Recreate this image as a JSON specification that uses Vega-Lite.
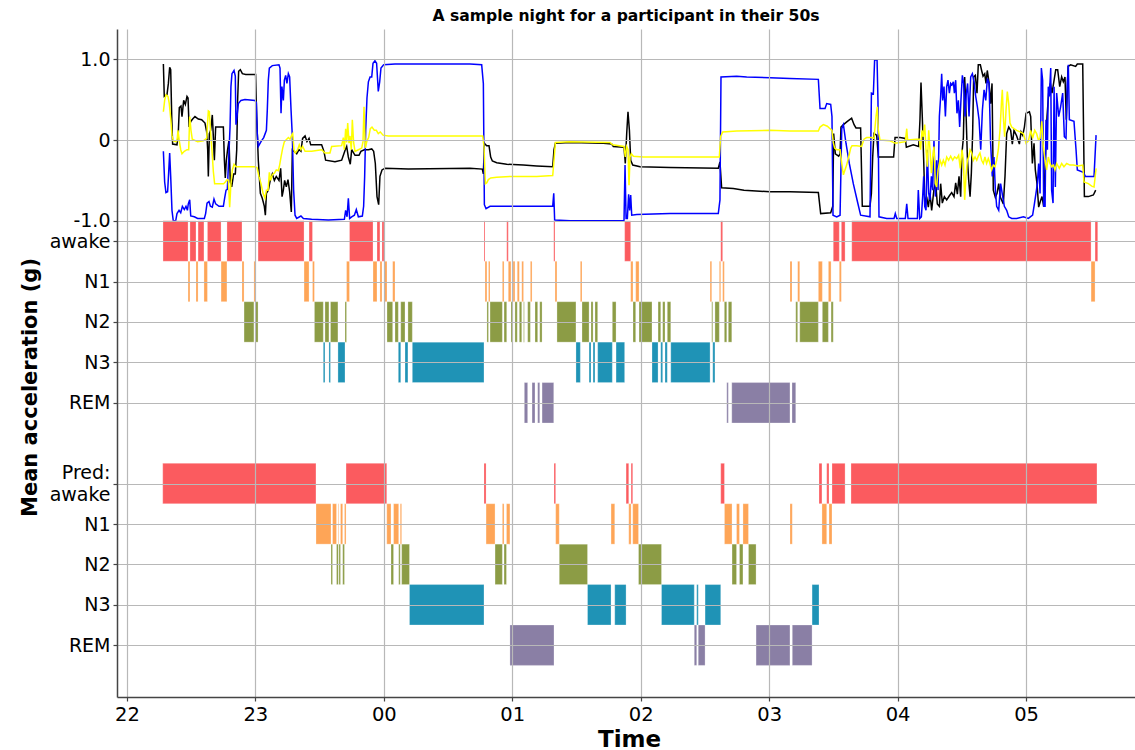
{
  "$schema": "https://vega.github.io/schema/vega-lite/v6.json",
  "width": 1018,
  "height": 668,
  "autosize": "none",
  "padding": {"left": 117, "top": 29, "right": 0, "bottom": 53},
  "background": "#ffffff",
  "title": {
    "text": "A sample night for a participant in their 50s",
    "font": "DejaVu Sans",
    "fontSize": 15.6,
    "fontWeight": "bold",
    "color": "#000000",
    "anchor": "middle",
    "baseline": "alphabetic",
    "offset": 6,
    "dy": 14
  },
  "config": {
    "view": {"stroke": null},
    "font": "DejaVu Sans"
  },
  "datasets": {
    "scored": [
      {"stage": "awake", "t": 22.281, "t_end": 22.476},
      {"stage": "N1", "t": 22.476, "t_end": 22.491},
      {"stage": "awake", "t": 22.491, "t_end": 22.538},
      {"stage": "N1", "t": 22.538, "t_end": 22.554},
      {"stage": "awake", "t": 22.554, "t_end": 22.600},
      {"stage": "N1", "t": 22.600, "t_end": 22.627},
      {"stage": "awake", "t": 22.627, "t_end": 22.733},
      {"stage": "N1", "t": 22.733, "t_end": 22.779},
      {"stage": "awake", "t": 22.779, "t_end": 22.896},
      {"stage": "N1", "t": 22.896, "t_end": 22.912},
      {"stage": "N2", "t": 22.912, "t_end": 22.989},
      {"stage": "N1", "t": 22.989, "t_end": 23.001},
      {"stage": "N2", "t": 23.001, "t_end": 23.021},
      {"stage": "awake", "t": 23.021, "t_end": 23.379},
      {"stage": "N1", "t": 23.379, "t_end": 23.418},
      {"stage": "awake", "t": 23.418, "t_end": 23.445},
      {"stage": "N1", "t": 23.445, "t_end": 23.460},
      {"stage": "N2", "t": 23.460, "t_end": 23.529},
      {"stage": "N3", "t": 23.529, "t_end": 23.542},
      {"stage": "N2", "t": 23.542, "t_end": 23.573},
      {"stage": "N3", "t": 23.573, "t_end": 23.585},
      {"stage": "N2", "t": 23.585, "t_end": 23.643},
      {"stage": "N3", "t": 23.643, "t_end": 23.698},
      {"stage": "N2", "t": 23.698, "t_end": 23.710},
      {"stage": "N1", "t": 23.710, "t_end": 23.733},
      {"stage": "awake", "t": 23.733, "t_end": 23.916},
      {"stage": "N1", "t": 23.916, "t_end": 23.947},
      {"stage": "awake", "t": 23.947, "t_end": 23.970},
      {"stage": "N1", "t": 23.970, "t_end": 23.986},
      {"stage": "awake", "t": 23.986, "t_end": 24.002},
      {"stage": "N1", "t": 24.002, "t_end": 24.025},
      {"stage": "N2", "t": 24.025, "t_end": 24.069},
      {"stage": "N1", "t": 24.069, "t_end": 24.087},
      {"stage": "N2", "t": 24.087, "t_end": 24.113},
      {"stage": "N3", "t": 24.113, "t_end": 24.132},
      {"stage": "N2", "t": 24.132, "t_end": 24.165},
      {"stage": "N3", "t": 24.165, "t_end": 24.188},
      {"stage": "N2", "t": 24.188, "t_end": 24.222},
      {"stage": "N3", "t": 24.222, "t_end": 24.780},
      {"stage": "awake", "t": 24.780, "t_end": 24.788},
      {"stage": "N1", "t": 24.788, "t_end": 24.803},
      {"stage": "N2", "t": 24.803, "t_end": 24.815},
      {"stage": "N1", "t": 24.815, "t_end": 24.827},
      {"stage": "N2", "t": 24.827, "t_end": 24.923},
      {"stage": "N1", "t": 24.923, "t_end": 24.936},
      {"stage": "N2", "t": 24.936, "t_end": 24.957},
      {"stage": "awake", "t": 24.957, "t_end": 24.969},
      {"stage": "N1", "t": 24.969, "t_end": 24.990},
      {"stage": "N2", "t": 24.990, "t_end": 25.006},
      {"stage": "N1", "t": 25.006, "t_end": 25.021},
      {"stage": "N2", "t": 25.021, "t_end": 25.039},
      {"stage": "N1", "t": 25.039, "t_end": 25.055},
      {"stage": "N2", "t": 25.055, "t_end": 25.074},
      {"stage": "N1", "t": 25.074, "t_end": 25.088},
      {"stage": "N2", "t": 25.088, "t_end": 25.094},
      {"stage": "REM", "t": 25.094, "t_end": 25.120},
      {"stage": "N2", "t": 25.120, "t_end": 25.141},
      {"stage": "N1", "t": 25.141, "t_end": 25.154},
      {"stage": "REM", "t": 25.154, "t_end": 25.177},
      {"stage": "N2", "t": 25.177, "t_end": 25.198},
      {"stage": "REM", "t": 25.198, "t_end": 25.214},
      {"stage": "N2", "t": 25.214, "t_end": 25.232},
      {"stage": "REM", "t": 25.232, "t_end": 25.323},
      {"stage": "awake", "t": 25.323, "t_end": 25.333},
      {"stage": "N1", "t": 25.333, "t_end": 25.348},
      {"stage": "N2", "t": 25.348, "t_end": 25.496},
      {"stage": "N3", "t": 25.496, "t_end": 25.530},
      {"stage": "N1", "t": 25.530, "t_end": 25.543},
      {"stage": "N2", "t": 25.543, "t_end": 25.598},
      {"stage": "N3", "t": 25.598, "t_end": 25.613},
      {"stage": "N2", "t": 25.613, "t_end": 25.629},
      {"stage": "N3", "t": 25.629, "t_end": 25.644},
      {"stage": "N2", "t": 25.644, "t_end": 25.665},
      {"stage": "N3", "t": 25.665, "t_end": 25.779},
      {"stage": "N2", "t": 25.779, "t_end": 25.808},
      {"stage": "N3", "t": 25.808, "t_end": 25.875},
      {"stage": "awake", "t": 25.875, "t_end": 25.922},
      {"stage": "N1", "t": 25.922, "t_end": 25.940},
      {"stage": "N2", "t": 25.940, "t_end": 25.961},
      {"stage": "N1", "t": 25.961, "t_end": 25.987},
      {"stage": "N2", "t": 25.987, "t_end": 26.088},
      {"stage": "N3", "t": 26.088, "t_end": 26.135},
      {"stage": "N2", "t": 26.135, "t_end": 26.156},
      {"stage": "N3", "t": 26.156, "t_end": 26.171},
      {"stage": "N2", "t": 26.171, "t_end": 26.189},
      {"stage": "N3", "t": 26.189, "t_end": 26.207},
      {"stage": "N2", "t": 26.207, "t_end": 26.234},
      {"stage": "N3", "t": 26.234, "t_end": 26.540},
      {"stage": "N1", "t": 26.540, "t_end": 26.553},
      {"stage": "N2", "t": 26.553, "t_end": 26.561},
      {"stage": "N3", "t": 26.561, "t_end": 26.578},
      {"stage": "N2", "t": 26.578, "t_end": 26.612},
      {"stage": "N1", "t": 26.612, "t_end": 26.623},
      {"stage": "awake", "t": 26.623, "t_end": 26.638},
      {"stage": "N1", "t": 26.638, "t_end": 26.651},
      {"stage": "N2", "t": 26.651, "t_end": 26.670},
      {"stage": "REM", "t": 26.670, "t_end": 26.682},
      {"stage": "N2", "t": 26.682, "t_end": 26.709},
      {"stage": "REM", "t": 26.709, "t_end": 27.162},
      {"stage": "N1", "t": 27.162, "t_end": 27.178},
      {"stage": "REM", "t": 27.178, "t_end": 27.207},
      {"stage": "N2", "t": 27.207, "t_end": 27.222},
      {"stage": "N1", "t": 27.222, "t_end": 27.238},
      {"stage": "N2", "t": 27.238, "t_end": 27.383},
      {"stage": "N1", "t": 27.383, "t_end": 27.414},
      {"stage": "N2", "t": 27.414, "t_end": 27.461},
      {"stage": "N1", "t": 27.461, "t_end": 27.482},
      {"stage": "N2", "t": 27.482, "t_end": 27.499},
      {"stage": "awake", "t": 27.499, "t_end": 27.546},
      {"stage": "N1", "t": 27.546, "t_end": 27.562},
      {"stage": "awake", "t": 27.562, "t_end": 27.591},
      {"stage": "awake", "t": 27.643, "t_end": 29.506},
      {"stage": "N1", "t": 29.506, "t_end": 29.537},
      {"stage": "awake", "t": 29.537, "t_end": 29.558}
    ],
    "predicted": [
      {"stage": "awake", "t": 22.279, "t_end": 23.472},
      {"stage": "N1", "t": 23.472, "t_end": 23.589},
      {"stage": "N2", "t": 23.589, "t_end": 23.601},
      {"stage": "N1", "t": 23.601, "t_end": 23.632},
      {"stage": "N2", "t": 23.632, "t_end": 23.646},
      {"stage": "N1", "t": 23.646, "t_end": 23.651},
      {"stage": "N2", "t": 23.651, "t_end": 23.663},
      {"stage": "N1", "t": 23.663, "t_end": 23.680},
      {"stage": "N2", "t": 23.680, "t_end": 23.694},
      {"stage": "N1", "t": 23.694, "t_end": 23.706},
      {"stage": "awake", "t": 23.706, "t_end": 24.023},
      {"stage": "N1", "t": 24.023, "t_end": 24.056},
      {"stage": "N2", "t": 24.056, "t_end": 24.076},
      {"stage": "N1", "t": 24.076, "t_end": 24.116},
      {"stage": "N2", "t": 24.116, "t_end": 24.128},
      {"stage": "N1", "t": 24.128, "t_end": 24.139},
      {"stage": "N2", "t": 24.139, "t_end": 24.200},
      {"stage": "N3", "t": 24.200, "t_end": 24.780},
      {"stage": "awake", "t": 24.780, "t_end": 24.796},
      {"stage": "N1", "t": 24.796, "t_end": 24.866},
      {"stage": "N2", "t": 24.866, "t_end": 24.923},
      {"stage": "N1", "t": 24.923, "t_end": 24.936},
      {"stage": "N2", "t": 24.936, "t_end": 24.955},
      {"stage": "N1", "t": 24.955, "t_end": 24.982},
      {"stage": "REM", "t": 24.982, "t_end": 25.325},
      {"stage": "awake", "t": 25.325, "t_end": 25.338},
      {"stage": "N1", "t": 25.338, "t_end": 25.366},
      {"stage": "N2", "t": 25.366, "t_end": 25.586},
      {"stage": "N3", "t": 25.586, "t_end": 25.769},
      {"stage": "N1", "t": 25.769, "t_end": 25.798},
      {"stage": "N3", "t": 25.798, "t_end": 25.886},
      {"stage": "awake", "t": 25.886, "t_end": 25.907},
      {"stage": "N1", "t": 25.907, "t_end": 25.925},
      {"stage": "awake", "t": 25.925, "t_end": 25.938},
      {"stage": "N1", "t": 25.938, "t_end": 25.983},
      {"stage": "N2", "t": 25.983, "t_end": 26.162},
      {"stage": "N3", "t": 26.162, "t_end": 26.417},
      {"stage": "REM", "t": 26.417, "t_end": 26.436},
      {"stage": "N3", "t": 26.436, "t_end": 26.448},
      {"stage": "REM", "t": 26.448, "t_end": 26.501},
      {"stage": "N3", "t": 26.501, "t_end": 26.623},
      {"stage": "awake", "t": 26.623, "t_end": 26.652},
      {"stage": "N1", "t": 26.652, "t_end": 26.711},
      {"stage": "N2", "t": 26.711, "t_end": 26.746},
      {"stage": "N1", "t": 26.746, "t_end": 26.769},
      {"stage": "N2", "t": 26.769, "t_end": 26.796},
      {"stage": "N1", "t": 26.796, "t_end": 26.839},
      {"stage": "N2", "t": 26.839, "t_end": 26.898},
      {"stage": "REM", "t": 26.898, "t_end": 27.162},
      {"stage": "N1", "t": 27.162, "t_end": 27.180},
      {"stage": "REM", "t": 27.180, "t_end": 27.334},
      {"stage": "N3", "t": 27.334, "t_end": 27.388},
      {"stage": "awake", "t": 27.388, "t_end": 27.411},
      {"stage": "N1", "t": 27.411, "t_end": 27.448},
      {"stage": "awake", "t": 27.448, "t_end": 27.466},
      {"stage": "N1", "t": 27.466, "t_end": 27.489},
      {"stage": "awake", "t": 27.489, "t_end": 27.591},
      {"stage": "awake", "t": 27.637, "t_end": 29.552}
    ],
    "acc_black": [
      {"t": 22.284, "g": 0.94}, {"t": 22.291, "g": 0.54}, {"t": 22.312, "g": 0.56}, {"t": 22.323, "g": 0.70},
      {"t": 22.333, "g": 0.90}, {"t": 22.341, "g": 0.87}, {"t": 22.349, "g": 0.29}, {"t": 22.356, "g": -0.05},
      {"t": 22.390, "g": -0.06}, {"t": 22.400, "g": 0.08}, {"t": 22.408, "g": 0.40}, {"t": 22.421, "g": 0.42},
      {"t": 22.429, "g": 0.29}, {"t": 22.442, "g": 0.49}, {"t": 22.455, "g": 0.44}, {"t": 22.468, "g": 0.54},
      {"t": 22.476, "g": 0.52}, {"t": 22.484, "g": 0.16}, {"t": 22.497, "g": 0.23}, {"t": 22.512, "g": 0.26},
      {"t": 22.530, "g": 0.29}, {"t": 22.556, "g": 0.26}, {"t": 22.582, "g": 0.25}, {"t": 22.608, "g": 0.21},
      {"t": 22.621, "g": 0.10}, {"t": 22.629, "g": -0.12}, {"t": 22.634, "g": -0.45}, {"t": 22.642, "g": 0.08},
      {"t": 22.652, "g": 0.12}, {"t": 22.665, "g": 0.31}, {"t": 22.673, "g": 0.04}, {"t": 22.681, "g": -0.25},
      {"t": 22.691, "g": 0.16}, {"t": 22.751, "g": 0.16}, {"t": 22.759, "g": -0.25}, {"t": 22.766, "g": -0.47},
      {"t": 22.774, "g": -0.25}, {"t": 22.784, "g": -0.12}, {"t": 22.795, "g": 0.00}, {"t": 22.805, "g": -0.52},
      {"t": 22.816, "g": -0.58}, {"t": 22.831, "g": -0.42}, {"t": 22.844, "g": -0.42}, {"t": 22.855, "g": -0.12},
      {"t": 22.862, "g": 0.49}, {"t": 22.870, "g": 0.85}, {"t": 22.883, "g": 0.87}, {"t": 22.899, "g": 0.82},
      {"t": 22.925, "g": 0.81}, {"t": 23.002, "g": 0.81}, {"t": 23.010, "g": 0.29}, {"t": 23.023, "g": -0.25},
      {"t": 23.039, "g": -0.66}, {"t": 23.054, "g": -0.72}, {"t": 23.070, "g": -0.82}, {"t": 23.078, "g": -0.93},
      {"t": 23.086, "g": -0.66}, {"t": 23.101, "g": -0.62}, {"t": 23.117, "g": -0.49}, {"t": 23.132, "g": -0.42},
      {"t": 23.148, "g": -0.50}, {"t": 23.163, "g": -0.45}, {"t": 23.184, "g": -0.50}, {"t": 23.197, "g": -0.35},
      {"t": 23.208, "g": -0.70}, {"t": 23.218, "g": -0.62}, {"t": 23.228, "g": -0.50}, {"t": 23.241, "g": -0.58},
      {"t": 23.254, "g": -0.49}, {"t": 23.267, "g": -0.64}, {"t": 23.280, "g": -0.89}, {"t": 23.288, "g": -0.12},
      {"t": 23.303, "g": -0.14}, {"t": 23.322, "g": -0.17}, {"t": 23.340, "g": -0.12}, {"t": 23.355, "g": -0.14},
      {"t": 23.368, "g": 0.02}, {"t": 23.387, "g": 0.05}, {"t": 23.402, "g": -0.02}, {"t": 23.418, "g": 0.02},
      {"t": 23.431, "g": -0.06}, {"t": 23.516, "g": -0.06}, {"t": 23.534, "g": -0.14}, {"t": 23.547, "g": -0.25},
      {"t": 23.620, "g": -0.27}, {"t": 23.672, "g": -0.25}, {"t": 23.698, "g": -0.13}, {"t": 23.711, "g": -0.08},
      {"t": 23.724, "g": -0.21}, {"t": 23.739, "g": -0.30}, {"t": 23.750, "g": -0.12}, {"t": 23.776, "g": -0.19},
      {"t": 23.807, "g": -0.19}, {"t": 23.822, "g": -0.14}, {"t": 23.848, "g": -0.12}, {"t": 23.880, "g": -0.12},
      {"t": 23.906, "g": -0.11}, {"t": 23.921, "g": -0.14}, {"t": 23.934, "g": -0.29}, {"t": 23.947, "g": -0.70},
      {"t": 23.960, "g": -0.80}, {"t": 23.970, "g": -0.45}, {"t": 23.986, "g": -0.37}, {"t": 24.009, "g": -0.35},
      {"t": 24.191, "g": -0.36}, {"t": 24.671, "g": -0.35}, {"t": 24.767, "g": -0.36}, {"t": 24.775, "g": -0.42},
      {"t": 24.783, "g": -0.04}, {"t": 24.801, "g": -0.07}, {"t": 24.819, "g": -0.07}, {"t": 24.832, "g": -0.21},
      {"t": 24.845, "g": -0.26}, {"t": 24.879, "g": -0.28}, {"t": 24.957, "g": -0.30}, {"t": 25.086, "g": -0.31},
      {"t": 25.190, "g": -0.32}, {"t": 25.315, "g": -0.33}, {"t": 25.325, "g": -0.12}, {"t": 25.336, "g": -0.04},
      {"t": 25.450, "g": -0.03}, {"t": 25.709, "g": -0.04}, {"t": 25.774, "g": -0.05}, {"t": 25.787, "g": -0.08},
      {"t": 25.870, "g": -0.09}, {"t": 25.880, "g": -0.29}, {"t": 25.891, "g": 0.08}, {"t": 25.901, "g": 0.35},
      {"t": 25.912, "g": 0.12}, {"t": 25.922, "g": -0.25}, {"t": 25.938, "g": -0.31}, {"t": 25.995, "g": -0.33},
      {"t": 26.228, "g": -0.34}, {"t": 26.604, "g": -0.35}, {"t": 26.617, "g": -0.27}, {"t": 26.630, "g": -0.59},
      {"t": 26.721, "g": -0.60}, {"t": 26.804, "g": -0.62}, {"t": 27.007, "g": -0.64}, {"t": 27.162, "g": -0.64},
      {"t": 27.383, "g": -0.65}, {"t": 27.401, "g": -0.91}, {"t": 27.479, "g": -0.90}, {"t": 27.495, "g": -0.82},
      {"t": 27.502, "g": 0.08}, {"t": 27.515, "g": -0.17}, {"t": 27.541, "g": -0.20}, {"t": 27.552, "g": -0.17},
      {"t": 27.559, "g": 0.16}, {"t": 27.578, "g": 0.19}, {"t": 27.609, "g": 0.23}, {"t": 27.642, "g": 0.27},
      {"t": 27.661, "g": 0.19}, {"t": 27.676, "g": 0.15}, {"t": 27.712, "g": 0.15}, {"t": 27.725, "g": -0.82},
      {"t": 27.785, "g": -0.82}, {"t": 27.796, "g": -0.66}, {"t": 27.806, "g": -0.21}, {"t": 27.816, "g": 0.08},
      {"t": 27.837, "g": 0.06}, {"t": 27.850, "g": -0.21}, {"t": 27.941, "g": -0.21}, {"t": 27.969, "g": -0.21},
      {"t": 27.980, "g": 0.03}, {"t": 28.019, "g": 0.03}, {"t": 28.060, "g": 0.02}, {"t": 28.068, "g": -0.09},
      {"t": 28.122, "g": -0.06}, {"t": 28.164, "g": -0.08}, {"t": 28.174, "g": 0.25}, {"t": 28.182, "g": 0.71},
      {"t": 28.192, "g": 0.29}, {"t": 28.203, "g": -0.25}, {"t": 28.213, "g": -0.82}, {"t": 28.226, "g": -0.70},
      {"t": 28.239, "g": -0.83}, {"t": 28.252, "g": -0.66}, {"t": 28.265, "g": -0.87}, {"t": 28.283, "g": -0.61},
      {"t": 28.296, "g": -0.52}, {"t": 28.309, "g": -0.79}, {"t": 28.325, "g": -0.82}, {"t": 28.335, "g": -0.54},
      {"t": 28.348, "g": -0.78}, {"t": 28.364, "g": -0.70}, {"t": 28.382, "g": -0.74}, {"t": 28.403, "g": -0.69},
      {"t": 28.421, "g": -0.65}, {"t": 28.439, "g": -0.70}, {"t": 28.452, "g": -0.53}, {"t": 28.465, "g": -0.67},
      {"t": 28.478, "g": -0.45}, {"t": 28.491, "g": -0.70}, {"t": 28.501, "g": -0.16}, {"t": 28.512, "g": 0.03},
      {"t": 28.522, "g": 0.78}, {"t": 28.532, "g": 0.37}, {"t": 28.543, "g": -0.21}, {"t": 28.553, "g": -0.49},
      {"t": 28.564, "g": -0.70}, {"t": 28.574, "g": -0.41}, {"t": 28.584, "g": 0.08}, {"t": 28.592, "g": 0.78},
      {"t": 28.605, "g": 0.80}, {"t": 28.618, "g": 0.58}, {"t": 28.628, "g": 0.93}, {"t": 28.644, "g": 0.93},
      {"t": 28.654, "g": 0.86}, {"t": 28.665, "g": 0.79}, {"t": 28.678, "g": 0.82}, {"t": 28.688, "g": 0.70},
      {"t": 28.698, "g": 0.86}, {"t": 28.711, "g": 0.72}, {"t": 28.724, "g": 0.45}, {"t": 28.735, "g": 0.70},
      {"t": 28.745, "g": -0.62}, {"t": 28.761, "g": -0.71}, {"t": 28.774, "g": -0.66}, {"t": 28.787, "g": -0.54},
      {"t": 28.800, "g": -0.71}, {"t": 28.823, "g": -0.79}, {"t": 28.836, "g": -0.45}, {"t": 28.849, "g": 0.08},
      {"t": 28.865, "g": 0.16}, {"t": 28.880, "g": 0.12}, {"t": 28.893, "g": -0.05}, {"t": 28.906, "g": 0.12},
      {"t": 28.927, "g": 0.05}, {"t": 28.948, "g": -0.05}, {"t": 28.961, "g": 0.10}, {"t": 28.974, "g": 0.06},
      {"t": 28.987, "g": 0.16}, {"t": 29.000, "g": 0.33}, {"t": 29.026, "g": 0.35}, {"t": 29.036, "g": 0.29},
      {"t": 29.049, "g": -0.29}, {"t": 29.062, "g": -0.04}, {"t": 29.072, "g": -0.37}, {"t": 29.085, "g": -0.54},
      {"t": 29.098, "g": -0.83}, {"t": 29.111, "g": -0.76}, {"t": 29.124, "g": -0.70}, {"t": 29.137, "g": -0.82},
      {"t": 29.150, "g": -0.25}, {"t": 29.163, "g": 0.29}, {"t": 29.176, "g": 0.58}, {"t": 29.189, "g": 0.70},
      {"t": 29.202, "g": 0.58}, {"t": 29.215, "g": 0.71}, {"t": 29.231, "g": 0.87}, {"t": 29.246, "g": 0.87},
      {"t": 29.262, "g": 0.66}, {"t": 29.277, "g": 0.78}, {"t": 29.290, "g": 0.72}, {"t": 29.303, "g": 0.78},
      {"t": 29.313, "g": 0.25}, {"t": 29.327, "g": 0.91}, {"t": 29.347, "g": 0.93}, {"t": 29.386, "g": 0.91},
      {"t": 29.399, "g": 0.94}, {"t": 29.441, "g": 0.94}, {"t": 29.454, "g": -0.70}, {"t": 29.485, "g": -0.70},
      {"t": 29.524, "g": -0.68}, {"t": 29.542, "g": -0.62}
    ],
    "acc_blue": [
      {"t": 22.284, "g": -0.14}, {"t": 22.294, "g": -0.52}, {"t": 22.304, "g": -0.65}, {"t": 22.317, "g": -0.64},
      {"t": 22.325, "g": -0.41}, {"t": 22.333, "g": -0.16}, {"t": 22.341, "g": -0.45}, {"t": 22.351, "g": -0.87},
      {"t": 22.361, "g": -1.00}, {"t": 22.380, "g": -1.00}, {"t": 22.390, "g": -0.91}, {"t": 22.406, "g": -0.87},
      {"t": 22.419, "g": -0.90}, {"t": 22.432, "g": -0.82}, {"t": 22.447, "g": -0.86}, {"t": 22.460, "g": -0.82},
      {"t": 22.471, "g": -0.87}, {"t": 22.478, "g": -0.79}, {"t": 22.489, "g": -0.74}, {"t": 22.497, "g": -0.94},
      {"t": 22.525, "g": -0.95}, {"t": 22.551, "g": -0.97}, {"t": 22.603, "g": -0.97}, {"t": 22.613, "g": -0.91},
      {"t": 22.624, "g": -0.78}, {"t": 22.639, "g": -0.76}, {"t": 22.650, "g": -0.82}, {"t": 22.665, "g": -0.83},
      {"t": 22.678, "g": -0.73}, {"t": 22.691, "g": -0.79}, {"t": 22.717, "g": -0.82}, {"t": 22.751, "g": -0.82},
      {"t": 22.761, "g": -0.72}, {"t": 22.772, "g": -0.62}, {"t": 22.782, "g": -0.61}, {"t": 22.792, "g": -0.25},
      {"t": 22.803, "g": 0.16}, {"t": 22.810, "g": 0.66}, {"t": 22.818, "g": 0.82}, {"t": 22.834, "g": 0.86},
      {"t": 22.844, "g": 0.79}, {"t": 22.849, "g": 0.19}, {"t": 22.857, "g": 0.29}, {"t": 22.868, "g": 0.45},
      {"t": 22.888, "g": 0.49}, {"t": 22.919, "g": 0.50}, {"t": 22.997, "g": 0.49}, {"t": 23.008, "g": 0.46},
      {"t": 23.015, "g": 0.08}, {"t": 23.023, "g": -0.08}, {"t": 23.044, "g": -0.02}, {"t": 23.065, "g": 0.03},
      {"t": 23.086, "g": 0.12}, {"t": 23.093, "g": 0.37}, {"t": 23.101, "g": 0.74}, {"t": 23.109, "g": 0.89},
      {"t": 23.132, "g": 0.92}, {"t": 23.184, "g": 0.93}, {"t": 23.192, "g": 0.89}, {"t": 23.200, "g": 0.33},
      {"t": 23.207, "g": 0.66}, {"t": 23.218, "g": 0.49}, {"t": 23.226, "g": 0.74}, {"t": 23.236, "g": 0.80},
      {"t": 23.246, "g": 0.70}, {"t": 23.257, "g": 0.82}, {"t": 23.267, "g": 0.78}, {"t": 23.278, "g": 0.37},
      {"t": 23.288, "g": 0.04}, {"t": 23.298, "g": -0.62}, {"t": 23.309, "g": -0.93}, {"t": 23.322, "g": -0.97},
      {"t": 23.355, "g": -0.94}, {"t": 23.374, "g": -0.97}, {"t": 23.438, "g": -0.98}, {"t": 23.568, "g": -0.99},
      {"t": 23.693, "g": -0.98}, {"t": 23.703, "g": -0.87}, {"t": 23.714, "g": -0.95}, {"t": 23.724, "g": -0.72},
      {"t": 23.734, "g": -0.97}, {"t": 23.750, "g": -0.95}, {"t": 23.771, "g": -0.93}, {"t": 23.786, "g": -0.86},
      {"t": 23.802, "g": -0.95}, {"t": 23.833, "g": -0.94}, {"t": 23.843, "g": -0.82}, {"t": 23.851, "g": -0.45},
      {"t": 23.859, "g": 0.12}, {"t": 23.869, "g": 0.52}, {"t": 23.880, "g": 0.72}, {"t": 23.893, "g": 0.78},
      {"t": 23.906, "g": 0.78}, {"t": 23.916, "g": 0.95}, {"t": 23.931, "g": 0.98}, {"t": 23.944, "g": 0.95},
      {"t": 23.952, "g": 0.74}, {"t": 23.957, "g": 0.60}, {"t": 23.968, "g": 0.72}, {"t": 23.978, "g": 0.89},
      {"t": 23.999, "g": 0.93}, {"t": 24.087, "g": 0.94}, {"t": 24.671, "g": 0.94}, {"t": 24.762, "g": 0.93},
      {"t": 24.775, "g": 0.70}, {"t": 24.783, "g": -0.80}, {"t": 24.796, "g": -0.85}, {"t": 24.827, "g": -0.82},
      {"t": 24.931, "g": -0.82}, {"t": 25.190, "g": -0.82}, {"t": 25.315, "g": -0.82}, {"t": 25.323, "g": -0.66},
      {"t": 25.330, "g": -0.99}, {"t": 25.450, "g": -1.00}, {"t": 25.870, "g": -1.00}, {"t": 25.878, "g": -0.31},
      {"t": 25.886, "g": -0.97}, {"t": 25.896, "g": -0.97}, {"t": 25.906, "g": -0.67}, {"t": 25.914, "g": -0.87},
      {"t": 25.922, "g": -0.68}, {"t": 25.930, "g": -0.93}, {"t": 25.969, "g": -0.92}, {"t": 26.228, "g": -0.91},
      {"t": 26.604, "g": -0.91}, {"t": 26.617, "g": -0.74}, {"t": 26.625, "g": 0.78}, {"t": 26.747, "g": 0.79},
      {"t": 26.825, "g": 0.78}, {"t": 27.007, "g": 0.77}, {"t": 27.162, "g": 0.76}, {"t": 27.383, "g": 0.75},
      {"t": 27.396, "g": 0.39}, {"t": 27.435, "g": 0.39}, {"t": 27.448, "g": 0.45}, {"t": 27.479, "g": 0.44},
      {"t": 27.489, "g": 0.29}, {"t": 27.497, "g": -0.93}, {"t": 27.526, "g": -0.95}, {"t": 27.552, "g": -0.93},
      {"t": 27.565, "g": 0.14}, {"t": 27.578, "g": 0.19}, {"t": 27.598, "g": -0.04}, {"t": 27.624, "g": -0.29},
      {"t": 27.655, "g": -0.54}, {"t": 27.687, "g": -0.76}, {"t": 27.712, "g": -0.93}, {"t": 27.785, "g": -0.95},
      {"t": 27.796, "g": 0.58}, {"t": 27.811, "g": 0.57}, {"t": 27.821, "g": 0.99}, {"t": 27.840, "g": 0.99},
      {"t": 27.847, "g": 0.49}, {"t": 27.855, "g": -0.95}, {"t": 27.915, "g": -0.97}, {"t": 27.972, "g": -0.97},
      {"t": 27.982, "g": -0.91}, {"t": 27.993, "g": -0.97}, {"t": 28.060, "g": -0.97}, {"t": 28.071, "g": -0.79},
      {"t": 28.081, "g": -0.97}, {"t": 28.154, "g": -0.97}, {"t": 28.161, "g": -0.62}, {"t": 28.172, "g": -0.97},
      {"t": 28.185, "g": -0.95}, {"t": 28.195, "g": -0.70}, {"t": 28.203, "g": -0.45}, {"t": 28.211, "g": -0.82},
      {"t": 28.221, "g": -0.87}, {"t": 28.231, "g": -0.12}, {"t": 28.242, "g": -0.66}, {"t": 28.252, "g": -0.74},
      {"t": 28.263, "g": -0.45}, {"t": 28.273, "g": -0.62}, {"t": 28.283, "g": 0.00}, {"t": 28.294, "g": -0.70},
      {"t": 28.304, "g": -0.25}, {"t": 28.315, "g": -0.62}, {"t": 28.325, "g": 0.29}, {"t": 28.335, "g": 0.54},
      {"t": 28.343, "g": 0.82}, {"t": 28.351, "g": 0.49}, {"t": 28.361, "g": 0.66}, {"t": 28.372, "g": 0.29},
      {"t": 28.382, "g": 0.66}, {"t": 28.392, "g": 0.74}, {"t": 28.403, "g": 0.58}, {"t": 28.413, "g": 0.70},
      {"t": 28.423, "g": 0.68}, {"t": 28.434, "g": 0.72}, {"t": 28.442, "g": 0.58}, {"t": 28.452, "g": 0.74},
      {"t": 28.462, "g": 0.33}, {"t": 28.473, "g": 0.49}, {"t": 28.483, "g": 0.16}, {"t": 28.493, "g": 0.49},
      {"t": 28.504, "g": 0.80}, {"t": 28.514, "g": 0.70}, {"t": 28.525, "g": 0.29}, {"t": 28.535, "g": 0.58},
      {"t": 28.545, "g": 0.70}, {"t": 28.556, "g": 0.29}, {"t": 28.569, "g": 0.78}, {"t": 28.582, "g": 0.82},
      {"t": 28.595, "g": 0.72}, {"t": 28.608, "g": 0.54}, {"t": 28.621, "g": 0.41}, {"t": 28.634, "g": 0.25},
      {"t": 28.647, "g": -0.12}, {"t": 28.660, "g": 0.37}, {"t": 28.673, "g": 0.62}, {"t": 28.686, "g": 0.49},
      {"t": 28.699, "g": 0.76}, {"t": 28.712, "g": 0.70}, {"t": 28.724, "g": -0.04}, {"t": 28.737, "g": -0.45},
      {"t": 28.750, "g": -0.21}, {"t": 28.761, "g": -0.62}, {"t": 28.771, "g": -0.82}, {"t": 28.787, "g": -0.87},
      {"t": 28.802, "g": -0.54}, {"t": 28.818, "g": -0.70}, {"t": 28.831, "g": -0.82}, {"t": 28.849, "g": -0.87},
      {"t": 28.865, "g": -0.95}, {"t": 28.888, "g": -0.97}, {"t": 28.927, "g": -0.97}, {"t": 28.979, "g": -0.95},
      {"t": 29.018, "g": -0.97}, {"t": 29.051, "g": -0.93}, {"t": 29.064, "g": -0.80}, {"t": 29.077, "g": -0.66},
      {"t": 29.088, "g": -0.54}, {"t": 29.098, "g": -0.29}, {"t": 29.109, "g": -0.66}, {"t": 29.119, "g": 0.89},
      {"t": 29.129, "g": 0.74}, {"t": 29.137, "g": -0.82}, {"t": 29.148, "g": -0.82}, {"t": 29.155, "g": 0.25},
      {"t": 29.166, "g": -0.12}, {"t": 29.173, "g": 0.66}, {"t": 29.181, "g": 0.54}, {"t": 29.192, "g": 0.89},
      {"t": 29.199, "g": -0.62}, {"t": 29.210, "g": -0.78}, {"t": 29.218, "g": 0.66}, {"t": 29.228, "g": -0.58},
      {"t": 29.238, "g": 0.58}, {"t": 29.254, "g": 0.29}, {"t": 29.269, "g": 0.41}, {"t": 29.285, "g": 0.58},
      {"t": 29.298, "g": 0.04}, {"t": 29.311, "g": 0.02}, {"t": 29.321, "g": 0.70}, {"t": 29.329, "g": 0.93},
      {"t": 29.337, "g": 0.25}, {"t": 29.373, "g": 0.23}, {"t": 29.389, "g": -0.12}, {"t": 29.399, "g": -0.37},
      {"t": 29.446, "g": -0.40}, {"t": 29.462, "g": -0.45}, {"t": 29.529, "g": -0.45}, {"t": 29.545, "g": 0.06}
    ],
    "acc_yellow": [
      {"t": 22.284, "g": 0.35}, {"t": 22.294, "g": 0.49}, {"t": 22.304, "g": 0.56}, {"t": 22.320, "g": 0.54},
      {"t": 22.330, "g": 0.45}, {"t": 22.341, "g": 0.27}, {"t": 22.351, "g": 0.06}, {"t": 22.361, "g": -0.01},
      {"t": 22.380, "g": -0.02}, {"t": 22.390, "g": -0.01}, {"t": 22.398, "g": 0.12}, {"t": 22.408, "g": -0.01},
      {"t": 22.419, "g": -0.12}, {"t": 22.429, "g": -0.17}, {"t": 22.447, "g": -0.14}, {"t": 22.468, "g": -0.12},
      {"t": 22.481, "g": -0.12}, {"t": 22.489, "g": 0.29}, {"t": 22.499, "g": 0.12}, {"t": 22.509, "g": 0.01},
      {"t": 22.551, "g": -0.02}, {"t": 22.595, "g": -0.01}, {"t": 22.621, "g": 0.02}, {"t": 22.634, "g": 0.36},
      {"t": 22.642, "g": 0.35}, {"t": 22.652, "g": 0.08}, {"t": 22.663, "g": -0.14}, {"t": 22.673, "g": -0.39},
      {"t": 22.683, "g": -0.54}, {"t": 22.725, "g": -0.54}, {"t": 22.753, "g": -0.54}, {"t": 22.766, "g": -0.52},
      {"t": 22.782, "g": -0.49}, {"t": 22.790, "g": -0.50}, {"t": 22.800, "g": -0.83}, {"t": 22.810, "g": -0.54},
      {"t": 22.821, "g": -0.37}, {"t": 22.834, "g": -0.30}, {"t": 22.849, "g": -0.33}, {"t": 22.893, "g": -0.33},
      {"t": 22.997, "g": -0.33}, {"t": 23.013, "g": -0.34}, {"t": 23.028, "g": -0.45}, {"t": 23.044, "g": -0.54},
      {"t": 23.060, "g": -0.66}, {"t": 23.075, "g": -0.72}, {"t": 23.086, "g": -0.62}, {"t": 23.099, "g": -0.62},
      {"t": 23.109, "g": -0.40}, {"t": 23.119, "g": -0.50}, {"t": 23.132, "g": -0.43}, {"t": 23.148, "g": -0.41},
      {"t": 23.163, "g": -0.37}, {"t": 23.179, "g": -0.38}, {"t": 23.189, "g": -0.31}, {"t": 23.200, "g": -0.21},
      {"t": 23.213, "g": -0.10}, {"t": 23.226, "g": -0.02}, {"t": 23.244, "g": 0.01}, {"t": 23.257, "g": 0.03},
      {"t": 23.270, "g": 0.01}, {"t": 23.283, "g": 0.06}, {"t": 23.291, "g": 0.08}, {"t": 23.301, "g": -0.12},
      {"t": 23.311, "g": -0.16}, {"t": 23.329, "g": -0.12}, {"t": 23.342, "g": -0.06}, {"t": 23.355, "g": -0.12},
      {"t": 23.368, "g": -0.08}, {"t": 23.387, "g": -0.14}, {"t": 23.438, "g": -0.14}, {"t": 23.516, "g": -0.12},
      {"t": 23.542, "g": -0.16}, {"t": 23.581, "g": -0.16}, {"t": 23.594, "g": -0.08}, {"t": 23.672, "g": -0.07},
      {"t": 23.685, "g": 0.03}, {"t": 23.693, "g": -0.12}, {"t": 23.703, "g": 0.14}, {"t": 23.711, "g": -0.03},
      {"t": 23.719, "g": 0.21}, {"t": 23.729, "g": -0.04}, {"t": 23.737, "g": 0.05}, {"t": 23.747, "g": -0.12},
      {"t": 23.755, "g": 0.25}, {"t": 23.765, "g": -0.03}, {"t": 23.776, "g": -0.14}, {"t": 23.802, "g": -0.12},
      {"t": 23.828, "g": -0.10}, {"t": 23.838, "g": -0.02}, {"t": 23.846, "g": 0.41}, {"t": 23.856, "g": -0.10},
      {"t": 23.869, "g": -0.01}, {"t": 23.882, "g": 0.03}, {"t": 23.895, "g": 0.14}, {"t": 23.908, "g": 0.16},
      {"t": 23.926, "g": 0.12}, {"t": 23.942, "g": 0.12}, {"t": 23.957, "g": 0.08}, {"t": 23.973, "g": 0.10},
      {"t": 23.994, "g": 0.06}, {"t": 24.035, "g": 0.05}, {"t": 24.671, "g": 0.05}, {"t": 24.770, "g": 0.05},
      {"t": 24.780, "g": -0.08}, {"t": 24.791, "g": -0.54}, {"t": 24.801, "g": -0.53}, {"t": 24.814, "g": -0.49},
      {"t": 24.832, "g": -0.47}, {"t": 24.879, "g": -0.46}, {"t": 24.983, "g": -0.45}, {"t": 25.190, "g": -0.45},
      {"t": 25.315, "g": -0.44}, {"t": 25.325, "g": -0.25}, {"t": 25.336, "g": -0.03}, {"t": 25.450, "g": -0.02},
      {"t": 25.761, "g": -0.03}, {"t": 25.782, "g": -0.06}, {"t": 25.870, "g": -0.08}, {"t": 25.880, "g": -0.21},
      {"t": 25.891, "g": -0.08}, {"t": 25.901, "g": -0.12}, {"t": 25.909, "g": -0.56}, {"t": 25.917, "g": -0.21},
      {"t": 25.927, "g": -0.17}, {"t": 25.943, "g": -0.20}, {"t": 26.020, "g": -0.21}, {"t": 26.228, "g": -0.21},
      {"t": 26.612, "g": -0.21}, {"t": 26.622, "g": 0.04}, {"t": 26.638, "g": 0.10}, {"t": 26.747, "g": 0.11},
      {"t": 27.007, "g": 0.12}, {"t": 27.162, "g": 0.11}, {"t": 27.383, "g": 0.11}, {"t": 27.396, "g": 0.16},
      {"t": 27.422, "g": 0.19}, {"t": 27.453, "g": 0.17}, {"t": 27.474, "g": 0.14}, {"t": 27.489, "g": 0.12},
      {"t": 27.500, "g": -0.04}, {"t": 27.510, "g": -0.10}, {"t": 27.526, "g": -0.12}, {"t": 27.552, "g": -0.12},
      {"t": 27.565, "g": -0.29}, {"t": 27.578, "g": -0.43}, {"t": 27.590, "g": -0.37}, {"t": 27.603, "g": -0.31},
      {"t": 27.619, "g": -0.21}, {"t": 27.635, "g": -0.10}, {"t": 27.645, "g": -0.07}, {"t": 27.681, "g": -0.07},
      {"t": 27.720, "g": -0.08}, {"t": 27.738, "g": 0.01}, {"t": 27.759, "g": 0.03}, {"t": 27.798, "g": 0.03},
      {"t": 27.816, "g": 0.02}, {"t": 27.832, "g": 0.29}, {"t": 27.842, "g": 0.41}, {"t": 27.850, "g": 0.12},
      {"t": 27.863, "g": 0.00}, {"t": 27.941, "g": -0.01}, {"t": 27.967, "g": -0.03}, {"t": 27.982, "g": -0.04},
      {"t": 28.019, "g": -0.03}, {"t": 28.060, "g": -0.02}, {"t": 28.071, "g": 0.14}, {"t": 28.078, "g": 0.00},
      {"t": 28.148, "g": 0.01}, {"t": 28.169, "g": 0.01}, {"t": 28.179, "g": -0.12}, {"t": 28.190, "g": 0.12},
      {"t": 28.200, "g": 0.04}, {"t": 28.211, "g": 0.19}, {"t": 28.221, "g": -0.12}, {"t": 28.231, "g": -0.33},
      {"t": 28.242, "g": 0.12}, {"t": 28.252, "g": -0.12}, {"t": 28.263, "g": -0.41}, {"t": 28.273, "g": -0.21},
      {"t": 28.283, "g": -0.08}, {"t": 28.294, "g": -0.54}, {"t": 28.304, "g": -0.58}, {"t": 28.315, "g": -0.37},
      {"t": 28.330, "g": -0.25}, {"t": 28.343, "g": -0.31}, {"t": 28.356, "g": -0.25}, {"t": 28.369, "g": -0.31},
      {"t": 28.382, "g": -0.21}, {"t": 28.397, "g": -0.25}, {"t": 28.413, "g": -0.20}, {"t": 28.429, "g": -0.25},
      {"t": 28.444, "g": -0.21}, {"t": 28.460, "g": -0.23}, {"t": 28.475, "g": -0.19}, {"t": 28.488, "g": -0.35},
      {"t": 28.501, "g": -0.12}, {"t": 28.512, "g": -0.25}, {"t": 28.522, "g": -0.74}, {"t": 28.532, "g": -0.45},
      {"t": 28.543, "g": -0.25}, {"t": 28.553, "g": -0.21}, {"t": 28.564, "g": -0.12}, {"t": 28.577, "g": -0.16},
      {"t": 28.590, "g": -0.25}, {"t": 28.603, "g": -0.21}, {"t": 28.616, "g": -0.25}, {"t": 28.628, "g": -0.20},
      {"t": 28.641, "g": -0.16}, {"t": 28.654, "g": -0.25}, {"t": 28.667, "g": -0.29}, {"t": 28.680, "g": -0.21},
      {"t": 28.693, "g": -0.29}, {"t": 28.706, "g": -0.23}, {"t": 28.719, "g": -0.29}, {"t": 28.732, "g": -0.37},
      {"t": 28.745, "g": -0.31}, {"t": 28.758, "g": -0.33}, {"t": 28.771, "g": -0.25}, {"t": 28.784, "g": -0.12},
      {"t": 28.797, "g": 0.12}, {"t": 28.808, "g": 0.45}, {"t": 28.815, "g": 0.62}, {"t": 28.823, "g": 0.29},
      {"t": 28.833, "g": 0.04}, {"t": 28.844, "g": 0.37}, {"t": 28.854, "g": 0.60}, {"t": 28.865, "g": 0.45},
      {"t": 28.875, "g": 0.21}, {"t": 28.888, "g": 0.16}, {"t": 28.906, "g": 0.14}, {"t": 28.927, "g": 0.12},
      {"t": 28.953, "g": 0.10}, {"t": 28.979, "g": 0.08}, {"t": 29.000, "g": -0.04}, {"t": 29.018, "g": -0.01},
      {"t": 29.036, "g": 0.12}, {"t": 29.051, "g": 0.02}, {"t": 29.067, "g": 0.12}, {"t": 29.082, "g": 0.08},
      {"t": 29.096, "g": 0.00}, {"t": 29.109, "g": 0.02}, {"t": 29.122, "g": 0.23}, {"t": 29.134, "g": -0.08},
      {"t": 29.148, "g": -0.25}, {"t": 29.160, "g": -0.37}, {"t": 29.173, "g": -0.21}, {"t": 29.186, "g": -0.29},
      {"t": 29.199, "g": -0.33}, {"t": 29.212, "g": -0.31}, {"t": 29.225, "g": -0.37}, {"t": 29.238, "g": -0.29},
      {"t": 29.259, "g": -0.35}, {"t": 29.277, "g": -0.29}, {"t": 29.295, "g": -0.33}, {"t": 29.316, "g": -0.29},
      {"t": 29.342, "g": -0.31}, {"t": 29.368, "g": -0.31}, {"t": 29.407, "g": -0.32}, {"t": 29.441, "g": -0.31},
      {"t": 29.451, "g": -0.52}, {"t": 29.485, "g": -0.54}, {"t": 29.511, "g": -0.57}, {"t": 29.529, "g": -0.58},
      {"t": 29.545, "g": -0.35}
    ]
  },
  "layer": [
    {
      "data": {"name": "acc_black"},
      "mark": {"type": "line", "color": "#000000", "strokeWidth": 1.5},
      "encoding": {
        "x": {
          "field": "t", "type": "quantitative",
          "scale": {"domain": [21.923, 29.848], "nice": false, "zero": false},
          "axis": {
            "title": "Time",
            "zindex": 1,
            "values": [22, 23, 24, 25, 26, 27, 28, 29],
            "labelExpr": "(datum.value % 24 < 10 ? '0' : '') + (datum.value % 24)",
            "labelFont": "DejaVu Sans", "labelFontSize": 19.5, "labelColor": "#000000",
            "labelPadding": 4, "labelFlush": false, "labelOverlap": false,
            "tickSize": 4, "tickColor": "#444444", "tickWidth": 1.2,
            "domainColor": "#444444", "domainWidth": 1.5,
            "grid": true, "gridColor": "#b8b8b8", "gridWidth": 1.2,
            "titleFont": "DejaVu Sans", "titleFontSize": 23, "titleFontWeight": "bold", "titleColor": "#000000",
            "titleX": 512, "titleY": 49, "titleBaseline": "alphabetic", "titleAnchor": "start", "titleAlign": "center"
          }
        },
        "y": {
          "field": "g", "type": "quantitative",
          "scale": {"domain": [-6.889, 1.373], "nice": false, "zero": false},
          "axis": {
            "title": "Mean acceleration (g)",
            "zindex": 1,
            "values": [1, 0, -1, -1.25, -1.75, -2.25, -2.75, -3.25, -4.25, -4.75, -5.25, -5.75, -6.25],
            "labelExpr": "datum.value == 1 ? '1.0' : datum.value == 0 ? '0' : datum.value == -1 ? '-1.0' : datum.value == -1.25 ? 'awake' : datum.value == -4.25 ? ['Pred:', 'awake'] : (datum.value == -1.75 || datum.value == -4.75) ? 'N1' : (datum.value == -2.25 || datum.value == -5.25) ? 'N2' : (datum.value == -2.75 || datum.value == -5.75) ? 'N3' : 'REM'",
            "labelFont": "DejaVu Sans", "labelFontSize": 19, "labelColor": "#000000", "labelLineHeight": 22,
            "labelOffset": {"condition": {"test": "datum.value == -4.25", "value": -11}, "value": 0},
            "labelPadding": 3, "labelFlush": false, "labelOverlap": false,
            "tickSize": 4, "tickColor": "#444444", "tickWidth": 1.2,
            "domainColor": "#444444", "domainWidth": 1.5,
            "grid": true, "gridColor": "#b8b8b8", "gridWidth": 1.2,
            "titleFont": "DejaVu Sans", "titleFontSize": 21, "titleFontWeight": "bold", "titleColor": "#000000",
            "titleAngle": 270, "titleX": -81, "titleY": 358, "titleBaseline": "alphabetic", "titleAlign": "center", "titleAnchor": "start"
          }
        }
      }
    },
    {
      "data": {"name": "acc_blue"},
      "mark": {"type": "line", "color": "#0000ff", "strokeWidth": 1.5},
      "encoding": {
        "x": {"field": "t", "type": "quantitative", "scale": {"domain": [21.923, 29.848], "nice": false, "zero": false}, "axis": {"title": "Time"}},
        "y": {"field": "g", "type": "quantitative", "scale": {"domain": [-6.889, 1.373], "nice": false, "zero": false}, "axis": null}
      }
    },
    {
      "data": {"name": "acc_yellow"},
      "mark": {"type": "line", "color": "#ffff00", "strokeWidth": 1.5},
      "encoding": {
        "x": {"field": "t", "type": "quantitative", "scale": {"domain": [21.923, 29.848], "nice": false, "zero": false}, "axis": {"title": "Time"}},
        "y": {"field": "g", "type": "quantitative", "scale": {"domain": [-6.889, 1.373], "nice": false, "zero": false}, "axis": null}
      }
    },
    {
      "data": {"name": "scored"},
      "mark": {"type": "rect", "stroke": "#ffffff", "strokeWidth": 0.6, "strokeOpacity": 0.45},
      "encoding": {
        "x": {"field": "t", "type": "quantitative", "scale": {"domain": [21.923, 29.848], "nice": false, "zero": false}, "axis": {"title": "Time"}},
        "x2": {"field": "t_end"},
        "y": {"field": "stage", "type": "nominal", "scale": {"domain": ["awake", "N1", "N2", "N3", "REM"], "range": [191.86, 393.98], "paddingInner": 0, "paddingOuter": 0}, "axis": null},
        "color": {"field": "stage", "type": "nominal", "scale": {"domain": ["awake", "N1", "N2", "N3", "REM"], "range": ["#fb5b5f", "#fea557", "#8c9c45", "#1f93b6", "#8a7fa5"]}, "legend": null}
      }
    },
    {
      "data": {"name": "predicted"},
      "mark": {"type": "rect", "stroke": "#ffffff", "strokeWidth": 0.6, "strokeOpacity": 0.45},
      "encoding": {
        "x": {"field": "t", "type": "quantitative", "scale": {"domain": [21.923, 29.848], "nice": false, "zero": false}, "axis": {"title": "Time"}},
        "x2": {"field": "t_end"},
        "y": {"field": "stage", "type": "nominal", "scale": {"domain": ["awake", "N1", "N2", "N3", "REM"], "range": [434.3, 636.4], "paddingInner": 0, "paddingOuter": 0}, "axis": null},
        "color": {"field": "stage", "type": "nominal", "legend": null}
      }
    }
  ],
  "resolve": {"scale": {"y": "independent"}}
}
